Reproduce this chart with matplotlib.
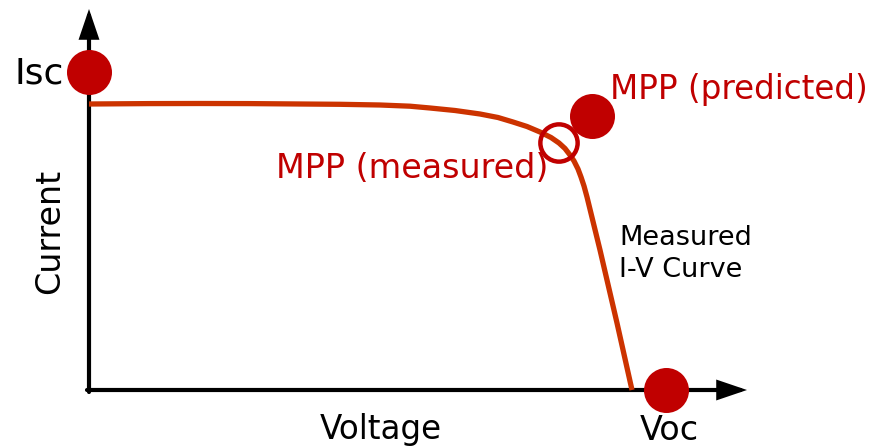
import matplotlib
matplotlib.use("Agg")
import matplotlib.pyplot as plt
from matplotlib.patches import FancyArrowPatch

# Measured I-V curve (voltage, current) in arbitrary units
voltage = [0, 60, 111, 160, 211, 251, 291, 321, 341, 366, 391, 409, 424,
           438, 451, 462, 470, 476, 481, 485, 489, 492, 495, 498, 511, 528, 543]
current = [286, 286.4, 286.5, 286.4, 286, 285.7, 285, 283.8, 282, 279.5,
           276, 272.5, 268, 263.5, 258, 252.5, 247, 241.5, 235, 229, 221,
           213, 204, 193, 140, 67, 0]

# Characteristic points
isc_point = (0, 318)
voc_point = (577, 0)
mpp_measured = (470, 247)
mpp_predicted = (503, 274)

curve_color = "#CC3300"
point_color = "#C00000"

W, H = 886, 447
fig = plt.figure(figsize=(W / 100, H / 100), dpi=100)
ax = fig.add_axes([0, 0, 1, 1])
ax.set_xlim(-89, W - 89)
ax.set_ylim(390 - H, 390)
ax.axis("off")

# Axes with arrow heads
for start, end in [((0, -2), (0, 381)), ((-2, 0), (658, 0))]:
    ax.add_patch(FancyArrowPatch(start, end, arrowstyle="-|>,head_length=1.0,head_width=0.34",
                                 mutation_scale=16, lw=3.0, color="black",
                                 shrinkA=0, shrinkB=0, joinstyle="miter", zorder=2))

ax.plot(voltage, current, color=curve_color, lw=3.8, solid_capstyle="butt",
        solid_joinstyle="round", zorder=3)

ax.scatter(*isc_point, s=1050, color=point_color, zorder=4, linewidths=0)
ax.scatter(*voc_point, s=1050, color=point_color, zorder=4, linewidths=0)
ax.scatter(*mpp_predicted, s=1050, color=point_color, zorder=4, linewidths=0)
ax.scatter(*mpp_measured, s=720, facecolors="none", edgecolors=point_color,
           linewidths=3.2, zorder=4)

font = ["DejaVu Sans"]
ax.text(-89 + 15, 316, "Isc", fontsize=26, ha="left", va="center", family=font)
ax.text(292, -39, "Voltage", fontsize=23.5, ha="center", va="center", family=font)
ax.text(-39, 159, "Current", fontsize=24, ha="center", va="center", rotation=90, family=font)
ax.text(580, -40, "Voc", fontsize=24, ha="center", va="center", family=font)
ax.text(521, 301, "MPP (predicted)", fontsize=23.5, ha="left", va="center",
        color=point_color, family=font)
ax.text(187, 222, "MPP (measured)", fontsize=24, ha="left", va="center",
        color=point_color, family=font)
ax.text(530, 136, "Measured\nI-V Curve", fontsize=19.5, ha="left", va="center",
        linespacing=1.3, family=font)

fig.savefig("out.png", dpi=100)
